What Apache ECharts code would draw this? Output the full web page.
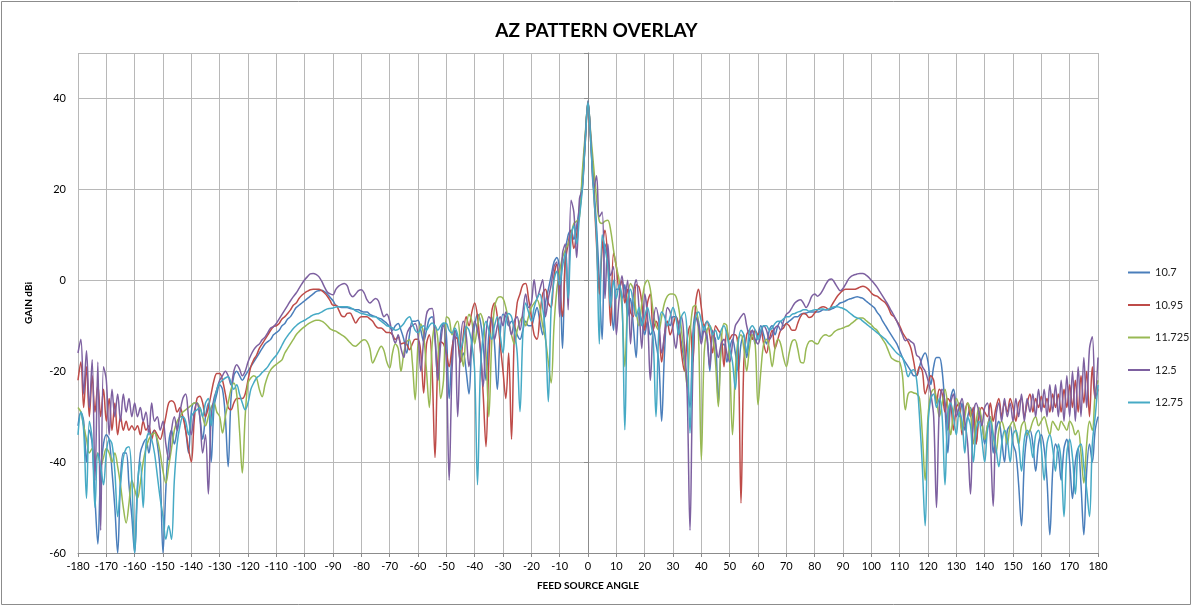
<!DOCTYPE html>
<html>
<head>
<meta charset="utf-8">
<script src="https://cdn.jsdelivr.net/npm/echarts@6/dist/echarts.min.js"></script>
<style>
html,body{margin:0;padding:0;background:#fff;}
#chart{width:1193px;height:607px;}
</style>
</head>
<body>
<div id="chart"></div>
<script>
// Sampling grid: one sample per degree from -180 to 180
const ANGLE_START = -180;
const ANGLE_END = 180;

const seriesNames = ['10.7', '10.95', '11.725', '12.5', '12.75'];

// GAIN dBi per degree, -180 .. 180 (361 values each)
const gain_10_7 = [
  -32,-29,-31,-40,-33,-36,-48,-58,-42,-36,
  -34,-35,-42,-50,-60,-44,-38,-38,-45,-52,
  -60,-46,-38,-36,-35,-38,-34,-33,-36,-42,
  -60,-46,-36,-33,-36,-33,-30,-30,-33,-38,
  -29,-27,-27,-30,-35,-30,-27,-40,-28,-25,
  -23,-24,-30,-41,-26,-21,-20,-21,-22,-21,
  -20,-19,-18,-17,-16,-15,-14,-13.5,-13,-12,
  -11.5,-11,-10,-9.5,-8.5,-8,-7,-6,-5.5,-5,
  -4.5,-4,-3.5,-3,-2.5,-2.3,-2.2,-2.5,-3,-3.8,
  -4.5,-5.5,-5.8,-6,-6,-6,-6.2,-6.3,-6.5,-6.5,
  -6.8,-7,-7,-7.5,-7.8,-8,-8.3,-8.5,-9,-9.5,
  -10.2,-11,-10,-9.5,-11,-13,-16,-12,-9,-9,
  -8.8,-11,-13.5,-11,-8.5,-8,-13,-22,-12,-9.5,
  -12,-26,-16,-11,-13,-18,-16,-20,-25,-14,
  -10,-7.5,-9,-14,-22,-12,-8,-14,-24,-12,
  -7.5,-8,-10,-9,-10,-12,-13,-11,-9,-10,
  -10,-8,-6,-9,-12,-5,-2,1,4,5,
  2,-15,6,10,11,9,12,16,22,31,
  39.5,
  31,21,12,0,-13,8,5,-3,-11,-2,
  -2,-4,-1,-8,-4,-10,-17,-7,-9,-12,
  -9,-12,-11,-14,-18,-31,-16,-9,-10,-8,
  -8,-10,-14,-18,-22,-28,-12,-7,-9,-13,
  -10,-12,-20,-12,-13,-27,-15,-14,-18,-15,
  -13,-16,-20,-14,-12,-17,-13,-11,-14,-12,
  -10,-12,-14,-11,-10,-12,-10,-9,-10,-9.5,
  -9,-8.5,-8,-8,-7.5,-7.3,-7.2,-7,-7,-7,
  -7,-6.8,-6.5,-6.5,-6.5,-6.3,-6,-5.5,-5,-4.8,
  -4.5,-4.2,-4,-3.8,-3.6,-3.8,-4,-4.5,-5,-5.5,
  -6,-7,-7.8,-9,-10,-11,-12,-13,-14,-15.5,
  -17,-18,-19,-20,-21,-21,-19,-17,-16,-18,
  -23,-19,-17,-17,-20,-28,-38,-26,-24,-28,
  -30,-27,-33,-30,-28,-31,-36,-29,-31,-36,
  -32,-30,-38,-33,-31,-35,-40,-33,-32,-36,
  -38,-45,-54,-40,-34,-33,-36,-42,-36,-34,
  -37,-44,-56,-42,-36,-38,-44,-37,-35,-40,
  -48,-40,-37,-45,-56,-42,-36,-40,-33,-30
];

const gain_10_95 = [
  -22,-18,-28,-19,-30,-21,-29,-23,-30,-24,
  -31,-26,-33,-27,-34,-30,-33,-31,-33,-32,
  -33,-32,-34,-31,-33,-32,-35,-33,-34,-35,
  -33,-30,-27,-26.5,-27,-29,-28,-30,-33,-37,
  -40,-31,-26,-25.5,-27,-30,-28,-25,-22,-20.5,
  -20.5,-22,-25,-28,-28.5,-27,-26,-26,-26,-25,
  -22,-19,-17.5,-16.5,-15,-14,-13,-12,-11,-10.2,
  -10,-9.5,-8.5,-8,-7.3,-6.5,-5.5,-5,-4,-3.3,
  -2.8,-2.4,-2.1,-2,-2,-2,-2.3,-2.8,-3.5,-4.5,
  -5.5,-5.5,-6.5,-7.8,-8,-7.3,-7.2,-8.2,-9.4,-8.5,
  -8,-8,-8,-8.5,-9,-10,-10.5,-10.5,-11,-11.5,
  -11.5,-12,-13,-12.5,-14,-13.8,-14,-15.3,-14,-13,
  -13,-16,-24.8,-14,-12,-20,-39,-18,-13.5,-14,
  -16,-19,-15,-12.5,-13,-18,-12,-8,-10,-7,
  -5,-8,-15,-25,-36.6,-18,-7,-5,-8,-14,
  -20,-26,-16,-35,-12,-5,-3,-1,-0.7,-4,
  -8,-12,-13,-8,-3,-2,-5,-6,1,3.5,
  -2,-8,4,8,11,7,10,15,21,30,
  39.3,
  30,20,8,-3,7,11,4,-10,6,3,
  -2,0,-5,-2,-7,-8,-1,-1.5,-5,-11,
  -5,-3,-11,-9,-11,-18,-12,-9,-12,-10,
  -8,-10,-16,-20,-13,-10,-18,-5,-2,-6,
  -10,-9,-12,-16,-10,-11,-12,-19,-11,-13,
  -12,-12,-15,-49,-18,-12,-11,-13,-11,-12,
  -11,-14,-16,-13,-11,-15,-13,-11,-10.5,-9.5,
  -10,-11,-11,-9.5,-8,-7.3,-7.5,-8.2,-8,-7.2,
  -6.5,-6,-5.8,-6,-6.5,-5.5,-4.5,-3.5,-2.8,-2.2,
  -2,-2,-2,-2,-1.8,-1.5,-1.3,-1.5,-2,-2.8,
  -3.3,-3.5,-4,-4.5,-5,-6,-7.5,-8,-9,-10,
  -11.5,-12.5,-13.5,-15,-18,-21,-19,-20,-25,-23,
  -21,-22,-27,-24,-25,-29,-26,-27,-33,-28,
  -27,-34,-29,-27,-30,-28,-36,-30,-28,-29,
  -30,-27,-31,-28,-26,-30,-27,-29,-26,-28,
  -31,-27,-26,-30,-27,-25,-29,-26,-28,-25.5,
  -28,-26,-29,-25,-28,-25,-29,-24,-28,-23,
  -28,-22,-29,-21,-27,-20,-30,-19,-26,-24
];

const gain_11_725 = [
  -28,-29,-32,-35,-38,-37,-40,-38,-41,-39,
  -37,-38,-40,-38,-41,-45,-50,-53.4,-49,-44,
  -46,-48,-44.6,-40,-37,-35,-34,-33.6,-35,-38,
  -42,-44.6,-41,-37,-33,-31,-30,-29,-28.5,-28,
  -27.5,-27,-27,-28,-30,-32,-30,-28,-27,-29,
  -30,-33.6,-30,-27,-24,-22.6,-25,-33,-42.4,-30,
  -22.6,-21.5,-21,-21.5,-24,-25.6,-23,-21,-19.7,-19,
  -18.5,-18,-17.5,-16,-15,-14,-13,-12,-11.3,-10.7,
  -10.2,-9.7,-9.3,-9,-8.8,-8.8,-9,-9.4,-10,-10.7,
  -11,-11.2,-11.6,-12,-12.4,-13,-13.7,-14.3,-14.5,-14,
  -13.4,-13.1,-13.5,-15,-18.2,-17,-15.5,-14.5,-15.5,-18,
  -19.3,-16,-14,-15,-20,-16,-13.5,-13.1,-18,-26.3,
  -14,-9.6,-12,-20,-28,-14,-10,-13,-26,-22,
  -8,-8.5,-12,-10,-9,-14,-19,-11,-7.5,-9,
  -14,-10,-7.3,-9,-16,-30,-14,-6,-4,-3.6,
  -4,-6,-9,-12,-14,-11,-9,-8,-10,-8,
  -6,-5,-4.3,-6,-10,-13,-18,-22.6,-10,-2,
  2,5,6.7,8,10,12.5,13,14,24,32,
  39,
  32,25,18,13,12.5,13,13.2,11,6.7,3,
  0,-6,-19,-5,-0.7,-2,-7,-10,-5,-1,
  0,-2,-7,-10,-11,-8,-5,-3.5,-3,-3,
  -3.5,-6,-11,-17,-23.4,-12,-6,-5.5,-12,-39.5,
  -16,-11,-10,-12,-18,-27.8,-14,-9.5,-10,-18,
  -34,-20,-13,-12,-15,-20,-15,-12,-14,-27.4,
  -20,-14,-13,-15,-19,-15,-13,-14,-17,-19,
  -16,-13.5,-13.1,-15,-18,-18.2,-15,-13.5,-13.3,-13.8,
  -14,-13,-12.2,-12,-12.3,-12,-11.3,-10.9,-10.7,-10.5,
  -10.2,-10,-9.5,-9,-8.5,-8.3,-8.3,-8.8,-9.3,-9.8,
  -10.5,-11,-12,-13,-14,-15.5,-17,-17.5,-17.8,-18,
  -21,-28.5,-25,-24.5,-24.8,-25,-26,-34,-44,-30,
  -25,-24,-26,-30,-27,-24,-28,-34,-29,-26,
  -28,-33,-30,-27,-29,-36,-31,-28,-31,-35,
  -32,-30,-34,-38,-33,-31,-33,-36,-32,-31,
  -33,-36,-32,-31,-34,-33,-31,-30,-32,-31,
  -30,-32,-34,-31,-32,-33,-31,-32,-33,-31,
  -32,-34,-33,-38,-44.6,-36,-31,-33,-25,-22
];

const gain_12_5 = [
  -16,-13,-25,-15.5,-28,-17.5,-44,-18,-55,-19,
  -22,-34,-24,-30,-25,-31,-25,-29,-26,-30,
  -27,-30,-28,-31,-29,-34,-27,-31,-30,-33,
  -31,-36,-39.5,-33,-30,-33,-29,-26,-25,-30,
  -34,-29,-27,-30,-38,-34,-47,-30,-26,-24,
  -22,-21,-20,-21,-23,-20,-18.6,-19.5,-21,-20,
  -18,-16.5,-15.3,-14.5,-14,-13.1,-12.5,-11.5,-10.5,-10.2,
  -9.5,-8.5,-7.5,-6.5,-5.5,-4.5,-3.6,-2.8,-1.8,-0.8,
  0.1,0.8,1.4,1.5,1.3,0.8,-0.2,-1.5,-2.6,-3,
  -3.2,-2,-1.3,-0.9,-0.7,-1.2,-3,-3.6,-3,-2.3,
  -2.1,-2.8,-4.3,-5,-4.5,-4,-4.5,-6.5,-8,-7.5,
  -9,-12,-13.8,-12,-15,-17,-12,-10.5,-10,-9.5,
  -12,-20,-13,-7.5,-6.3,-6.2,-12,-22,-14,-10,
  -18,-44,-20,-11,-30,-14,-9,-12,-19,-13,
  -9,-11,-15,-23.4,-12,-8,-9,-13,-10,-8,
  -10,-7,-9,-12,-9,-8,-11,-7,-3,-6,
  -5,0.1,-4,-2,0.1,-8,-4,-1,3,4,
  -8,5.9,8,-6.5,17.6,15,5,18,20,31,
  39,
  31,20,23,14,15,-4,8,1,3,-12,
  -4,1,-4,0,-14,-3,0.1,-6,-15,-3,
  -8,-22,-10,-6,-9,-16,-12,-6,-7,-11,
  -15,-10,-8,-14,-25,-55,-20,-8,-10,-14,
  -11,-13,-19,-11,-14,-17,-14,-13,-16,-18,
  -14,-10,-9,-8,-7.3,-10,-12,-11,-13,-14,
  -12,-10,-11,-13,-12,-10.5,-10,-11,-9,-7.5,
  -7,-6,-5,-4.5,-4.3,-5,-6,-5,-3.5,-3,
  -3.5,-3,-2,-0.8,0.1,0.3,-0.5,-1.5,-2.3,-1.8,
  -0.8,0.3,0.9,1.2,1.4,1.5,1.5,1.2,0.7,0,
  -0.7,-1.5,-2.5,-3.5,-4.5,-5.5,-6.7,-7.8,-9,-10.5,
  -12,-13.3,-13,-13.5,-14,-16.5,-17,-19,-20,-22,
  -25,-30,-50,-28,-24,-27,-33,-27,-25,-30,
  -28,-26,-31,-36,-47,-30,-27,-29,-32,-28,
  -27,-35,-49.7,-30,-27,-31,-26,-30,-27,-31,
  -26,-30,-25,-31,-26,-29,-25,-30,-24,-29,
  -24,-30,-23,-29,-23,-30,-22,-31,-21,-30,
  -20,-31,-19,-30,-17,-28,-15,-12.4,-26,-17
];

const gain_12_75 = [
  -34,-29,-33,-48,-31,-35,-50,-38,-41,-45,
  -38,-35,-36,-42,-52,-45,-39,-37,-36.6,-44,
  -60,-45,-40,-50,-36,-33.6,-35,-38,-43,-48,
  -52,-57,-54,-57,-44,-36,-32,-30,-31,-34,
  -30,-29,-28.5,-28,-30,-27,-26,-32,-27,-24,
  -22.6,-22,-21.5,-21.2,-22.5,-24,-23,-25,-27,-28.5,
  -27,-24,-22.6,-21.5,-21,-20.3,-19.7,-19,-18,-17.2,
  -16.5,-15.5,-14.3,-13.1,-12.2,-11.4,-10.6,-10,-9.5,-9.1,
  -8.8,-8.4,-8,-7.6,-7.4,-7.3,-7,-6.6,-6.3,-6.2,
  -6.1,-5.9,-5.8,-5.8,-5.8,-5.8,-6,-6.3,-6.7,-7,
  -7.3,-7.4,-7.6,-7.8,-8,-8,-8.5,-9,-9.5,-10,
  -10.2,-10.5,-11,-10.8,-10.2,-9.5,-8.5,-8,-9.5,-11,
  -11.5,-10.5,-10,-11,-10,-9.4,-10,-11,-10,-9.4,
  -9.5,-11,-11.6,-10.5,-12,-15.3,-13,-10.2,-11,-14,
  -20,-45,-20,-12,-9,-11,-13,-10,-8,-12,
  -16,-9,-7.3,-8,-11,-16,-28.9,-12,-5,-7,
  -9,-6,-4,-3,-6,-12,-26.7,-6,0,2,
  -1,3,6,-4,9,12,8,14,20,30,
  39.2,
  30,19,10,-14,10,7,3,-6,0,-4,
  -1,-4,-32.9,-5,-2,-5,-8,-6,-10,-8,
  -6,-9,-13,-30,-11,-7,-8,-10,-8,-6,
  -8,-12,-8,-7,-12,-33.6,-14,-8,-7,-9,
  -11,-9,-10,-12,-11,-13,-11,-10,-12,-15,
  -18,-24,-14,-11,-12,-16,-11,-10,-11,-13,
  -11,-10,-10,-11,-10.5,-9.5,-9,-9,-8.5,-8,
  -8,-7.5,-7.3,-7,-6.8,-6.5,-6.5,-6.8,-6.7,-6.5,
  -6.5,-6.3,-6.3,-6.5,-6.3,-6,-5.8,-5.8,-6,-6.2,
  -6.5,-7,-7.5,-8,-8.3,-8.5,-9,-9.5,-10,-10.5,
  -11,-11.5,-12,-12.5,-13,-13.8,-14.5,-15.3,-16,-16.5,
  -17,-19,-21.2,-20,-19.7,-22,-30,-41,-54,-32,
  -26,-25,-28,-26,-30,-45,-29,-27,-30,-34,
  -29,-31,-38,-30,-32,-40,-33,-31,-35,-40,
  -33,-31,-34,-37,-41,-36,-33,-35,-40,-34,
  -33,-36,-42,-35,-33,-35,-39,-34,-33,-37,
  -44,-36,-34,-37,-42,-36,-40,-52,-38,-35,
  -39,-47,-37,-36,-41,-46,-52,-36,-30,-23
];

const seriesValues = [gain_10_7, gain_10_95, gain_11_725, gain_12_5, gain_12_75];
const seriesColors = ['#4A7EBB', '#BE4B48', '#98B954', '#7D60A0', '#46AAC5'];

const FONT = 'Lato, "Open Sans", "DejaVu Sans", sans-serif';

function toPairs(vals) {
  const out = [];
  for (let i = 0; i < vals.length; i++) out.push([ANGLE_START + i, vals[i]]);
  return out;
}

const chart = echarts.init(document.getElementById('chart'), null, { renderer: 'canvas' });

const option = {
  animation: false,
  backgroundColor: '#ffffff',
  title: {
    text: 'AZ PATTERN OVERLAY',
    left: 'center',
    top: 16,
    textStyle: { fontFamily: FONT, fontWeight: 'bold', fontSize: 19, color: '#000' }
  },
  graphic: [{
    type: 'rect',
    shape: { x: 1.5, y: 1.5, width: 1189, height: 603 },
    style: { fill: 'none', stroke: '#8c8c8c', lineWidth: 1 },
    silent: true
  }],
  legend: {
    orient: 'vertical',
    left: 1123,
    top: 262,
    icon: 'rect',
    itemWidth: 22,
    itemHeight: 2,
    itemGap: 21.5,
    data: seriesNames,
    textStyle: { fontFamily: FONT, fontSize: 11, color: '#222' }
  },
  grid: { left: 78, right: 95, top: 53, bottom: 54, containLabel: false },
  xAxis: {
    type: 'value',
    min: ANGLE_START,
    max: ANGLE_END,
    interval: 10,
    name: 'FEED SOURCE ANGLE',
    nameLocation: 'middle',
    nameGap: 28,
    nameTextStyle: { fontFamily: FONT, fontWeight: 'bold', fontSize: 10, color: '#000' },
    axisLine: { show: true, onZero: false, lineStyle: { color: '#8c8c8c', width: 1 } },
    axisTick: { show: true, length: 4, lineStyle: { color: '#8c8c8c' } },
    axisLabel: { fontFamily: FONT, fontSize: 11, color: '#000', margin: 8 },
    splitLine: { show: true, lineStyle: { color: '#b8b8b8', width: 1 } }
  },
  yAxis: {
    type: 'value',
    min: -60,
    max: 50,
    interval: 20,
    name: 'GAIN dBi',
    nameLocation: 'middle',
    nameGap: 44,
    nameRotate: 90,
    nameTextStyle: { fontFamily: FONT, fontWeight: 'bold', fontSize: 10, color: '#000' },
    axisLine: { show: true, lineStyle: { color: '#8c8c8c', width: 1 } },
    axisTick: { show: true, length: 4, lineStyle: { color: '#8c8c8c' } },
    axisLabel: {
      fontFamily: FONT, fontSize: 11, color: '#000', margin: 12,
      formatter: function (v) { return v === 50 ? '' : String(v); }
    },
    splitLine: { show: true, lineStyle: { color: '#b8b8b8', width: 1 } }
  },
  series: seriesNames.map(function (name, k) {
    return {
      name: name,
      type: 'line',
      data: toPairs(seriesValues[k]),
      symbol: 'none',
      smooth: 0.35,
      lineStyle: { color: seriesColors[k], width: 1.5 },
      itemStyle: { color: seriesColors[k] },
      z: 2 + k
    };
  })
};

chart.setOption(option);
</script>
</body>
</html>
